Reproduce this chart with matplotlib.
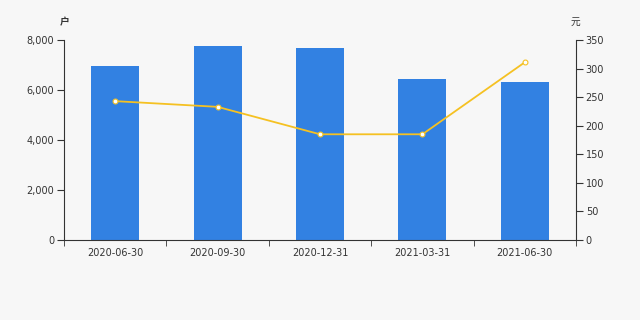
import matplotlib
matplotlib.use("Agg")
import matplotlib.pyplot as plt
from matplotlib.ticker import FuncFormatter

plt.rcParams['font.family'] = ['DejaVu Sans', 'Noto Sans CJK SC']

categories = ["2020-06-30", "2020-09-30", "2020-12-31", "2021-03-31", "2021-06-30"]
households = [6980, 7760, 7680, 6440, 6320]
avg_value = [243, 233, 185, 185, 311]

bg = "#f7f7f7"
fig = plt.figure(figsize=(6.4, 3.2), dpi=100, facecolor=bg)
ax = fig.add_axes([64/640, 80/320, 512/640, 200/320])
ax.set_facecolor(bg)
x = list(range(len(categories)))
ax.bar(x, households, width=0.47, color="#3281e2", zorder=2)
ax.set_xlim(-0.5, len(categories) - 0.5)
ax.set_ylim(0, 8000)
ax.set_yticks([0, 2000, 4000, 6000, 8000])
ax.yaxis.set_major_formatter(FuncFormatter(lambda v, p: f"{int(v):,}"))
ax.set_xticks(x)
ax.set_xticklabels(categories)
ax.set_xticks([i - 0.5 for i in range(len(categories) + 1)], minor=True)
ax.tick_params(axis='x', which='major', length=0, pad=6)
ax.tick_params(axis='x', which='minor', length=4, color="#333333")
ax.tick_params(axis='y', length=5, color="#333333", pad=2)
ax.tick_params(labelsize=7, labelcolor="#333333")
for s in ["top", "right"]:
    ax.spines[s].set_visible(False)
for s in ["left", "bottom"]:
    ax.spines[s].set_color("#333333")

ax2 = ax.twinx()
ax2.plot(x, avg_value, color="#f5c122", lw=1.3, marker="o", markersize=3.5,
         markerfacecolor="white", markeredgecolor="#f5c122", markeredgewidth=0.8, zorder=3)
ax2.set_ylim(0, 350)
ax2.set_yticks(range(0, 351, 50))
ax2.tick_params(axis='y', length=5, color="#333333", labelsize=7, labelcolor="#333333", pad=2)
for s in ["top", "left", "bottom"]:
    ax2.spines[s].set_visible(False)
ax2.spines["right"].set_color("#333333")

fig.text(60/640, 1 - 22/320, "户", family=['Noto Sans CJK SC'], fontsize=7, weight='bold', color="#333333", va='center')
fig.text(571/640, 1 - 22/320, "元", family=['Noto Sans CJK SC'], fontsize=7, color="#333333", va='center')

fig.savefig("out.png", dpi=100, facecolor=bg)
